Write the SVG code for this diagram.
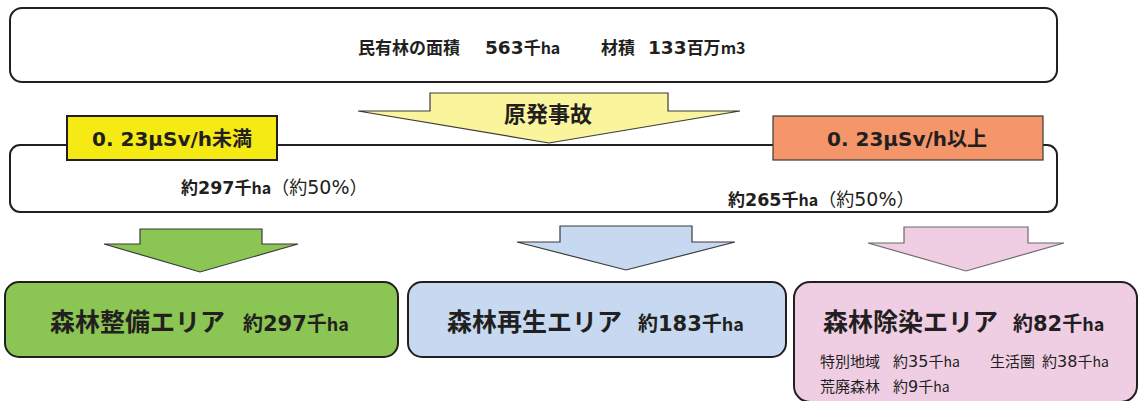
<svg xmlns="http://www.w3.org/2000/svg" width="1139" height="401" viewBox="0 0 1139 401">
<style>
text{font-family:"Noto Sans CJK JP","Noto Sans",sans-serif;fill:#231f20}
.b{font-weight:700}
.r{font-weight:400}
.d{font-family:"DejaVu Sans",sans-serif}
.arr{stroke:#3a3a3a;stroke-width:1.2;stroke-linejoin:miter}
</style>
<rect width="1139" height="401" fill="#ffffff"/>
<g id="connectors">
<polygon id="arrow-accident" class="arr" fill="#faf59c" points="430,93 668,93 668,111 740,111 549,143 358,111 430,111"/>
<polygon id="arrow-green" class="arr" fill="#8bc553" points="140,229 262,229 262,244 298,244 200,272 104,244 140,244"/>
<polygon id="arrow-blue" class="arr" fill="#c6d9f0" points="560,226 692,226 692,242 735,242 626,270 517,242 560,242"/>
<polygon id="arrow-pink" fill="#efcde3" stroke="#6b6b6b" stroke-width="1.2" points="904,227 1028,227 1028,243 1064,243 966,271 868,243 904,243"/>
</g>
<g id="node-total">
<rect x="10" y="8" width="1047" height="74" rx="12" fill="#ffffff" stroke="#231f20" stroke-width="2"/>
<text class="b" font-size="17" y="54"><tspan x="358">民有林の面積</tspan><tspan x="485" class="d" font-size="18.5">563</tspan><tspan>千</tspan><tspan font-size="16">ha</tspan><tspan x="601">材積</tspan><tspan x="648" class="d" font-size="18.5">133</tspan><tspan>百万</tspan><tspan font-size="16">m3</tspan></text>
</g>
<g id="node-accident-label">
<text class="b" font-size="22" x="548" y="122" text-anchor="middle">原発事故</text>
</g>
<g id="node-split">
<rect x="10" y="145" width="1047" height="67" rx="10" fill="#ffffff" stroke="#231f20" stroke-width="2"/>
<text font-size="17" y="194"><tspan x="181" class="b">約</tspan><tspan class="b d" font-size="17.5">297</tspan><tspan class="b">千</tspan><tspan class="b" font-size="16">ha</tspan><tspan class="r" font-size="18">（約</tspan><tspan class="r d" font-size="19">50%</tspan><tspan class="r" font-size="18">）</tspan></text>
<text font-size="17" y="206"><tspan x="728" class="b">約</tspan><tspan class="b d" font-size="17.5">265</tspan><tspan class="b">千</tspan><tspan class="b" font-size="16">ha</tspan><tspan class="r" font-size="18">（約</tspan><tspan class="r d" font-size="19">50%</tspan><tspan class="r" font-size="18">）</tspan></text>
</g>
<g id="node-low">
<rect x="67" y="116" width="210" height="44" fill="#f6ea14" stroke="#231f20" stroke-width="2"/>
<text class="b" font-size="20" x="172" y="146" text-anchor="middle"><tspan class="d">0. 23μSv/h</tspan>未満</text>
</g>
<g id="node-high">
<rect x="773" y="116" width="270" height="44" fill="#f5956a" stroke="#3a3a3a" stroke-width="1.2"/>
<text class="b" font-size="20" x="907" y="146" text-anchor="middle"><tspan class="d">0. 23μSv/h</tspan>以上</text>
</g>
<g id="node-maintenance">
<rect x="5" y="282" width="393" height="75" rx="14" fill="#8bc553" stroke="#231f20" stroke-width="2"/>
<text class="b" y="331"><tspan x="50" font-size="25">森林整備エリア</tspan><tspan x="243" font-size="20">約</tspan><tspan class="d" font-size="21">297</tspan><tspan font-size="20">千</tspan><tspan font-size="18">ha</tspan></text>
</g>
<g id="node-regeneration">
<rect x="408" y="282" width="378" height="75" rx="14" fill="#c6d9f0" stroke="#231f20" stroke-width="2"/>
<text class="b" y="331"><tspan x="447" font-size="25">森林再生エリア</tspan><tspan x="638" font-size="20">約</tspan><tspan class="d" font-size="21">183</tspan><tspan font-size="20">千</tspan><tspan font-size="18">ha</tspan></text>
</g>
<g id="node-decontamination">
<rect x="794" y="282" width="343" height="120" rx="16" fill="#efcde3" stroke="#231f20" stroke-width="2"/>
<text class="b" y="331"><tspan x="823" font-size="25">森林除染エリア</tspan><tspan x="1013" font-size="20">約</tspan><tspan class="d" font-size="21">82</tspan><tspan font-size="20">千</tspan><tspan font-size="18">ha</tspan></text>
<text class="r" font-size="15" y="367"><tspan x="820">特別地域</tspan><tspan x="893">約</tspan><tspan class="d" font-size="16">35</tspan><tspan>千</tspan><tspan font-size="14">ha</tspan><tspan x="990">生活圏</tspan><tspan x="1042">約</tspan><tspan class="d" font-size="16">38</tspan><tspan>千</tspan><tspan font-size="14">ha</tspan></text>
<text class="r" font-size="15" y="392"><tspan x="820">荒廃森林</tspan><tspan x="893">約</tspan><tspan class="d" font-size="16">9</tspan><tspan>千</tspan><tspan font-size="14">ha</tspan></text>
</g>
</svg>
